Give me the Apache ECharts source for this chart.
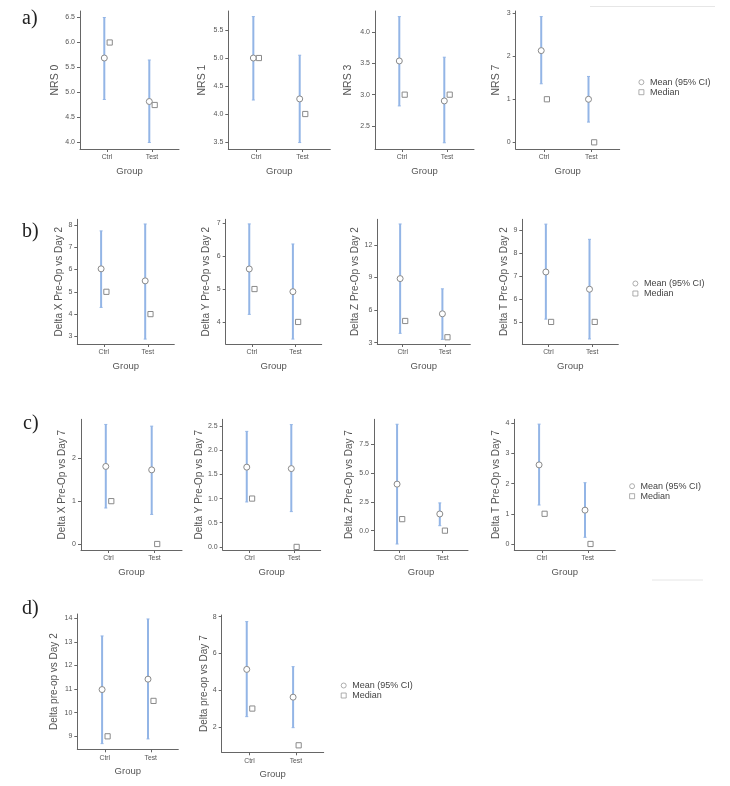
<!DOCTYPE html>
<html><head><meta charset="utf-8">
<script src="https://cdn.jsdelivr.net/npm/echarts@6/dist/echarts.min.js"></script>
<style>html,body{margin:0;padding:0;background:#fff}#c{width:730px;height:786px}</style>
</head><body><div id="c"></div>
<script>
// ---------------- DATA ----------------
const groups = ['Ctrl', 'Test'];
const panelLabels = ['a)', 'b)', 'c)', 'd)'];
const yNames = [
  'NRS 0', 'NRS 1', 'NRS 3', 'NRS 7',
  'Delta X Pre-Op vs Day 2', 'Delta Y Pre-Op vs Day 2', 'Delta Z Pre-Op vs Day 2', 'Delta T Pre-Op vs Day 2',
  'Delta X Pre-Op vs Day 7', 'Delta Y Pre-Op vs Day 7', 'Delta Z Pre-Op vs Day 7', 'Delta T Pre-Op vs Day 7',
  'Delta pre-op vs Day 2', 'Delta pre-op vs Day 7'
];
const meanVals = [
  [5.69, 4.82], [5.00, 4.27], [3.54, 2.90], [2.13, 1.00],
  [6.03, 5.49], [5.61, 4.92], [8.90, 5.66], [7.17, 6.42],
  [1.81, 1.73], [1.65, 1.62], [4.04, 1.45], [2.62, 1.12],
  [10.98, 11.42], [5.13, 3.62]
];
const ciLower = [
  [4.86, 4.00], [4.25, 3.49], [2.82, 2.23], [1.36, 0.47],
  [4.30, 2.88], [4.23, 3.48], [3.86, 3.31], [5.12, 4.26],
  [0.84, 0.69], [0.93, 0.73], [-1.16, 0.43], [1.29, 0.22],
  [8.69, 8.89], [2.56, 1.96]
];
const ciUpper = [
  [6.50, 5.65], [5.74, 5.05], [4.25, 3.60], [2.92, 1.53],
  [7.73, 8.04], [6.98, 6.37], [13.93, 7.96], [9.25, 8.59],
  [2.79, 2.75], [2.39, 2.53], [9.24, 2.41], [3.97, 2.03],
  [13.25, 13.97], [7.73, 5.28]
];
const medianVals = [
  [6, 4.75], [5, 4], [3, 3], [1, 0],
  [5, 4], [5, 4], [5, 3.5], [5, 5],
  [1, 0], [1, 0], [1, 0], [1, 0],
  [9, 10.5], [3, 1]
];
const yTickLabels = [
  ['4.0','4.5','5.0','5.5','6.0','6.5'], ['3.5','4.0','4.5','5.0','5.5'], ['2.5','3.0','3.5','4.0'], ['0','1','2','3'],
  ['3','4','5','6','7','8'], ['4','5','6','7'], ['3','6','9','12'], ['5','6','7','8','9'],
  ['0','1','2'], ['0.0','0.5','1.0','1.5','2.0','2.5'], ['0.0','2.5','5.0','7.5'], ['0','1','2','3','4'],
  ['9','10','11','12','13','14'], ['2','4','6','8']
];
const yRanges = [
  [3.87, 6.63], [3.375, 5.84], [2.13, 4.34], [-0.155, 3.05],
  [2.66, 8.25], [3.33, 7.12], [2.88, 14.36], [4.04, 9.46],
  [-0.14, 2.91], [-0.064, 2.64], [-1.68, 9.67], [-0.2, 4.13],
  [8.45, 14.18], [0.62, 8.09]
];
const xName = 'Group';
const meanName = 'Mean (95% CI)';
const medianName = 'Median';

// ---------------- LAYOUT (positions/styles) ----------------
// [left, top, width, axisY]
const boxes = [
  [80, 11, 99, 149], [228.3, 11, 102, 149], [375, 11, 99, 149], [515.7, 11, 104, 149],
  [77.3, 219.3, 97, 344], [225.7, 219.3, 96, 344], [377.3, 219.3, 93, 344], [522.3, 219.3, 96, 344],
  [81, 419.3, 101, 550], [222.7, 419.3, 98, 550], [374, 419.3, 94, 550], [514.3, 419.3, 101, 550],
  [77.3, 614, 101, 749.3], [221.7, 615, 102, 752.3]
];
const yNameGaps = [19.5, 21, 21, 14, 12, 14, 17, 13, 14, 13.5, 20, 13.5, 18, 12.5];
const yNameSizes = [10.5, 10.5, 10.5, 10.5, 10, 10, 10, 10, 10, 10, 10, 10, 10, 10];
const legendPos = [[641, 82.7], [635, 284], [631.7, 486.7], [343.3, 686]];
const labelPos = [[22, 20], [22, 233], [23, 425], [22, 610]];

const AX = '#666', TXT = '#555', BAR = '#93b5e6', MK = '#8a8a8a';
const FONT = '"Liberation Sans", Arial, sans-serif';
const dodge = 0.06;

const grid = [], xAxis = [], yAxis = [], series = [];
boxes.forEach((b, i) => {
  grid.push({ left: b[0], top: b[1], width: b[2], height: b[3] - b[1], outerBoundsMode: 'none' });
  xAxis.push({
    gridIndex: i, type: 'value', min: 0.4, max: 2.6,
    name: xName, nameLocation: 'middle', nameGap: 17,
    nameTextStyle: { fontSize: 9.5, color: TXT, fontFamily: FONT },
    axisLine: { show: true, onZero: false, lineStyle: { color: AX, width: 1 } },
    axisTick: { show: true, length: 3, lineStyle: { color: AX }, customValues: groups.map((g, j) => j + 1) },
    axisLabel: { fontSize: 6.8, color: TXT, margin: 5, fontFamily: FONT,
      customValues: groups.map((g, j) => j + 1),
      formatter: v => groups[Math.round(v) - 1] || '' },
    splitLine: { show: false }
  });
  const ticks = yTickLabels[i].map(parseFloat);
  yAxis.push({
    gridIndex: i, type: 'value', min: yRanges[i][0], max: yRanges[i][1],
    name: yNames[i], nameLocation: 'middle', nameGap: yNameGaps[i],
    nameTextStyle: { fontSize: yNameSizes[i], color: TXT, fontFamily: FONT },
    axisLine: { show: true, onZero: false, lineStyle: { color: AX, width: 1 } },
    axisTick: { show: true, length: 3, lineStyle: { color: AX }, customValues: ticks },
    axisLabel: { fontSize: 7, color: TXT, margin: 5, fontFamily: FONT, customValues: ticks,
      formatter: v => { const k = ticks.findIndex(t => Math.abs(t - v) < 1e-9); return k >= 0 ? yTickLabels[i][k] : ''; } },
    splitLine: { show: false }
  });
  series.push({
    type: 'custom', name: 'CI', xAxisIndex: i, yAxisIndex: i, z: 1, silent: true,
    encode: { x: 0, y: [1, 2] },
    data: groups.map((g, j) => [j + 1 - dodge, ciLower[i][j], ciUpper[i][j]]),
    renderItem: (params, api) => {
      const p1 = api.coord([api.value(0), api.value(1)]);
      const p2 = api.coord([api.value(0), api.value(2)]);
      const st = { stroke: BAR, lineWidth: 2 };
      return { type: 'group', children: [
        { type: 'line', shape: { x1: p1[0], y1: p1[1], x2: p2[0], y2: p2[1] }, style: st },
        { type: 'line', shape: { x1: p1[0] - 1.5, y1: p1[1], x2: p1[0] + 1.5, y2: p1[1] }, style: { stroke: BAR, lineWidth: 1 } },
        { type: 'line', shape: { x1: p2[0] - 1.5, y1: p2[1], x2: p2[0] + 1.5, y2: p2[1] }, style: { stroke: BAR, lineWidth: 1 } }
      ] };
    }
  });
  series.push({
    type: 'scatter', name: meanName, xAxisIndex: i, yAxisIndex: i, z: 3,
    symbol: 'circle', symbolSize: 6,
    itemStyle: { color: '#fff', borderColor: MK, borderWidth: 1, opacity: 1 },
    data: groups.map((g, j) => [j + 1 - dodge, meanVals[i][j]])
  });
  series.push({
    type: 'scatter', name: medianName, xAxisIndex: i, yAxisIndex: i, z: 3,
    symbol: 'rect', symbolSize: 5.2,
    itemStyle: { color: '#fff', borderColor: MK, borderWidth: 1, opacity: 1 },
    data: groups.map((g, j) => [j + 1 + dodge, medianVals[i][j]])
  });
});

const legend = legendPos.map(p => ({
  data: [meanName, medianName], orient: 'vertical', left: p[0] - 2.5, top: p[1] - 5,
  padding: 0, itemWidth: 5, itemHeight: 5, itemGap: 1,
  selectedMode: false,
  itemStyle: { color: '#fff', borderColor: '#999', borderWidth: 0.8 },
  textStyle: { fontSize: 9, color: '#444', fontFamily: FONT, lineHeight: 9, padding: [0, 0, 0, 1] }
}));

const graphic = panelLabels.map((t, k) => ({
  type: 'text', left: labelPos[k][0], top: labelPos[k][1] - 11,
  style: { text: t, fontSize: 20, fontFamily: '"Liberation Serif", "DejaVu Serif", serif', fill: '#222' }
}));
graphic.push({ type: 'line', shape: { x1: 590, y1: 6.5, x2: 715, y2: 6.5 }, style: { stroke: '#e6e6e6', lineWidth: 1 } });
graphic.push({ type: 'line', shape: { x1: 652, y1: 580, x2: 703, y2: 580 }, style: { stroke: '#e6e6e6', lineWidth: 1 } });

const chart = echarts.init(document.getElementById('c'), null, { renderer: 'canvas' });
chart.setOption({
  backgroundColor: '#fff', animation: false,
  grid, xAxis, yAxis, series, legend, graphic
});
</script></body></html>
